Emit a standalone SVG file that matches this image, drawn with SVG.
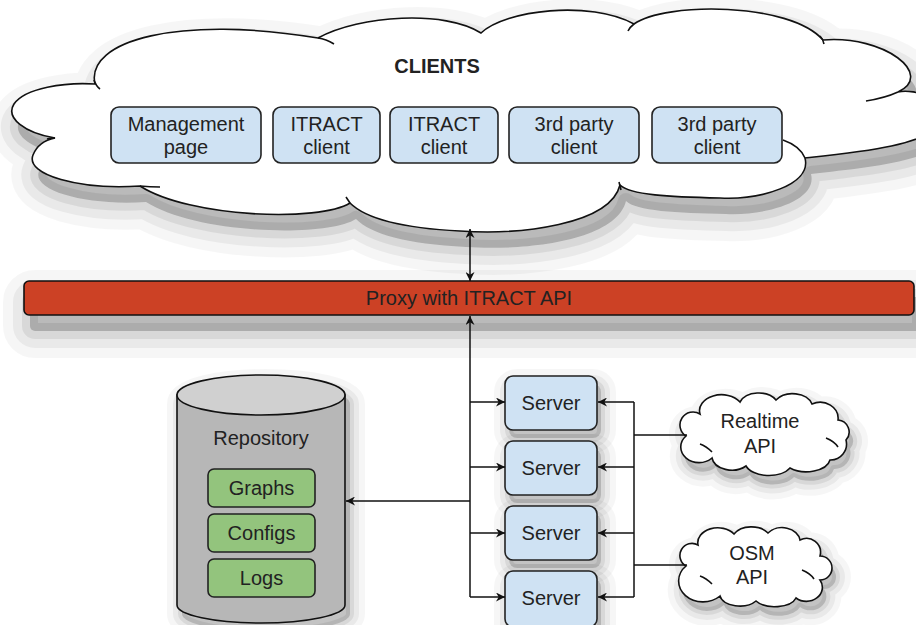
<svg xmlns="http://www.w3.org/2000/svg" width="916" height="625" viewBox="0 0 916 625">
<defs>
<style>
.t{font-family:"Liberation Sans",Arial,sans-serif;font-size:20px;fill:#222;text-anchor:middle}
.b{font-weight:bold}
.blue{fill:#cfe2f3;stroke:#222;stroke-width:1.6}
.green{fill:#93c47d;stroke:#222;stroke-width:1.6}
.ol{stroke:#111;stroke-width:1.6;fill:none}
.cl{fill:#fff;stroke:#111;stroke-width:1.6}
.ln{stroke:#111;stroke-width:1.5;fill:none}
.sa{fill:#000;fill-opacity:.2;stroke:#000;stroke-opacity:.035;stroke-width:54;stroke-linejoin:round}
.sb{fill:none;stroke:#000;stroke-opacity:.05;stroke-width:34;stroke-linejoin:round}
.sc{fill:none;stroke:#000;stroke-opacity:.07;stroke-width:16;stroke-linejoin:round}
.ta{fill:#000;fill-opacity:.16;stroke:#000;stroke-opacity:.035;stroke-width:30;stroke-linejoin:round}
.tb{fill:none;stroke:#000;stroke-opacity:.05;stroke-width:18;stroke-linejoin:round}
.tc{fill:none;stroke:#000;stroke-opacity:.07;stroke-width:8;stroke-linejoin:round}
</style>
<path id="cloudP" d="M 95,84 C 85,40 180,15 318,38 C 360,15 445,10 481,33 C 505,10 590,0 634,24 C 665,2 790,2 823,40 C 885,35 935,75 898,92 C 915,88 950,100 940,122 C 930,145 860,152 805,158 C 812,185 760,200 720,198 C 670,197 630,195 620,185 C 610,225 520,235 460,231 C 400,228 365,218 350,203 C 320,222 190,218 140,186 C 80,190 25,175 33,155 C 37,145 45,140 55,138 C 25,133 5,118 14,104 C 25,88 65,82 95,84 Z"/>
<rect id="barP" x="24" y="281" width="890" height="34" rx="5"/>
<path id="cylP" d="M 177,395 A 84,20 0 0,1 345,395 L 345,605 A 84,18 0 0,1 177,605 Z"/>
<rect id="srvP" x="505" y="376" width="92" height="54" rx="8"/>
<path id="rtP" d="M 686,436 A 12,12 0 0,1 700,414 A 22,16 0 0,1 740,402 A 20,14 0 0,1 776,400 A 20,14 0 0,1 812,404 A 18,16 0 0,1 838,420 A 12,12 0 0,1 846,440 A 16,16 0 0,1 830,460 A 24,14 0 0,1 790,468 A 24,14 0 0,1 746,466 A 20,14 0 0,1 712,458 A 14,12 0 0,1 686,436 Z"/>
<path id="osmP" d="M 686,566 A 12,12 0 0,1 698,545 A 20,15 0 0,1 734,534 A 20,14 0 0,1 768,533 A 18,14 0 0,1 800,540 A 14,14 0 0,1 820,556 A 12,12 0 0,1 820,580 A 16,14 0 0,1 796,598 A 22,12 0 0,1 756,601 A 20,12 0 0,1 720,596 A 14,12 0 0,1 686,566 Z"/>
<marker id="ah" viewBox="0 0 10 10" refX="10" refY="5" markerWidth="11" markerHeight="9" markerUnits="userSpaceOnUse" orient="auto-start-reverse">
<path d="M0,0 L10,5 L0,10 L3,5 Z" fill="#111"/>
</marker>
</defs>
<rect width="916" height="625" fill="#fff"/>

<g id="shadows">
<g transform="translate(6,16)"><use href="#cloudP" class="sa"/><use href="#cloudP" class="sb"/><use href="#cloudP" class="sc"/></g>
<g transform="translate(6,16)"><use href="#barP" class="sa"/><use href="#barP" class="sb"/><use href="#barP" class="sc"/></g>
<g transform="translate(5,9)"><use href="#cylP" class="ta"/><use href="#cylP" class="tb"/><use href="#cylP" class="tc"/></g>
<g transform="translate(4,8)"><use href="#srvP" class="ta"/><use href="#srvP" class="tb"/><use href="#srvP" class="tc"/></g>
<g transform="translate(4,73)"><use href="#srvP" class="ta"/><use href="#srvP" class="tb"/><use href="#srvP" class="tc"/></g>
<g transform="translate(4,138)"><use href="#srvP" class="ta"/><use href="#srvP" class="tb"/><use href="#srvP" class="tc"/></g>
<g transform="translate(4,203)"><use href="#srvP" class="ta"/><use href="#srvP" class="tb"/><use href="#srvP" class="tc"/></g>
<g transform="translate(4,9)"><use href="#rtP" class="ta"/><use href="#rtP" class="tb"/><use href="#rtP" class="tc"/></g>
<g transform="translate(4,9)"><use href="#osmP" class="ta"/><use href="#osmP" class="tb"/><use href="#osmP" class="tc"/></g>
</g>

<g id="clients-cloud">
<use href="#cloudP" class="cl"/>
<path class="ol" d="M 94,80 Q 96,86 100,89 M 318,38 Q 326,39 334,44 M 628,31 Q 630,27 634,24 M 820,36 Q 823,39 824,44 M 898,92 Q 885,98 866,101 M 783,140 Q 800,146 805,158 M 621,190 Q 620,186 619,182 M 350,203 Q 348,200 346,197 M 140,186 Q 150,187 160,187 M 55,138 Q 50,138 47,139"/>
<text class="t b" x="437" y="73">CLIENTS</text>
</g>

<g id="management-page">
<rect class="blue" x="111" y="107" width="150" height="56" rx="8"/>
<text class="t" x="186" y="131">Management</text>
<text class="t" x="186" y="154">page</text>
</g>
<g id="itract-client-1">
<rect class="blue" x="273" y="107" width="107" height="56" rx="8"/>
<text class="t" x="326.5" y="131">ITRACT</text>
<text class="t" x="326.5" y="154">client</text>
</g>
<g id="itract-client-2">
<rect class="blue" x="390" y="107" width="108" height="56" rx="8"/>
<text class="t" x="444" y="131">ITRACT</text>
<text class="t" x="444" y="154">client</text>
</g>
<g id="third-party-1">
<rect class="blue" x="509" y="107" width="130" height="56" rx="8"/>
<text class="t" x="574" y="131">3rd party</text>
<text class="t" x="574" y="154">client</text>
</g>
<g id="third-party-2">
<rect class="blue" x="652" y="107" width="130" height="56" rx="8"/>
<text class="t" x="717" y="131">3rd party</text>
<text class="t" x="717" y="154">client</text>
</g>

<g id="proxy">
<use href="#barP" fill="#cc4125" stroke="#111" stroke-width="1.6"/>
<text class="t" x="469" y="305">Proxy with ITRACT API</text>
</g>

<g id="repository">
<path d="M 177,395 L 177,605 A 84,18 0 0,0 345,605 L 345,395 Z" fill="#b7b7b7" stroke="#111" stroke-width="1.6"/>
<ellipse cx="261" cy="395" rx="84" ry="20" fill="#d0d0d0" stroke="#111" stroke-width="1.6"/>
<text class="t" x="261" y="445">Repository</text>
</g>
<g id="graphs">
<rect class="green" x="208" y="469" width="107" height="38" rx="6"/>
<text class="t" x="261.5" y="495">Graphs</text>
</g>
<g id="configs">
<rect class="green" x="208" y="514" width="107" height="38" rx="6"/>
<text class="t" x="261.5" y="540">Configs</text>
</g>
<g id="logs">
<rect class="green" x="208" y="559" width="107" height="38" rx="6"/>
<text class="t" x="261.5" y="585">Logs</text>
</g>

<g id="server-1">
<rect class="blue" x="505" y="376" width="92" height="54" rx="8"/>
<text class="t" x="551" y="410">Server</text>
</g>
<g id="server-2">
<rect class="blue" x="505" y="441" width="92" height="54" rx="8"/>
<text class="t" x="551" y="475">Server</text>
</g>
<g id="server-3">
<rect class="blue" x="505" y="506" width="92" height="54" rx="8"/>
<text class="t" x="551" y="540">Server</text>
</g>
<g id="server-4">
<rect class="blue" x="505" y="571" width="92" height="56" rx="8"/>
<text class="t" x="551" y="605">Server</text>
</g>

<g id="realtime-api">
<use href="#rtP" class="cl"/>
<path class="ol" d="M 700,444 Q 706,446 712,452 M 826,438 Q 834,441 838,447"/>
<text class="t" x="760" y="428">Realtime</text>
<text class="t" x="760" y="453">API</text>
</g>
<g id="osm-api">
<use href="#osmP" class="cl"/>
<path class="ol" d="M 700,576 Q 706,578 712,584 M 802,570 Q 810,573 814,579"/>
<text class="t" x="752" y="560">OSM</text>
<text class="t" x="752" y="584">API</text>
</g>

<g id="connectors">
<path class="ln" d="M 470,229 L 470,281" marker-start="url(#ah)" marker-end="url(#ah)"/>
<path class="ln" d="M 470,597 L 470,316" marker-end="url(#ah)"/>
<path class="ln" d="M 470,402 L 505,402" marker-end="url(#ah)"/>
<path class="ln" d="M 470,467 L 505,467" marker-end="url(#ah)"/>
<path class="ln" d="M 470,533 L 505,533" marker-end="url(#ah)"/>
<path class="ln" d="M 470,597 L 505,597" marker-end="url(#ah)"/>
<path class="ln" d="M 470,501 L 346,501" marker-end="url(#ah)"/>
<path class="ln" d="M 634,402 L 634,597"/>
<path class="ln" d="M 634,402 L 598,402" marker-end="url(#ah)"/>
<path class="ln" d="M 634,467 L 598,467" marker-end="url(#ah)"/>
<path class="ln" d="M 634,533 L 598,533" marker-end="url(#ah)"/>
<path class="ln" d="M 634,597 L 598,597" marker-end="url(#ah)"/>
<path class="ln" d="M 687,435 L 634,435"/>
<path class="ln" d="M 687,565 L 634,565"/>
</g>
</svg>
